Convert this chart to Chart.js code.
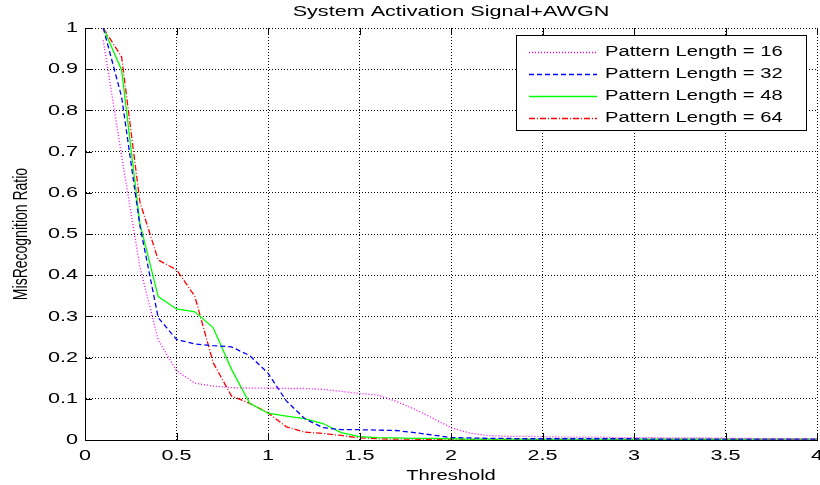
<!DOCTYPE html>
<html>
<head>
<meta charset="utf-8">
<title>System Activation Signal+AWGN</title>
<script src="https://cdn.jsdelivr.net/npm/chart.js@4.4.0/dist/chart.umd.min.js"></script>
<style>
  html, body { margin: 0; padding: 0; background: #fff; }
  #wrap { width: 820px; height: 485px; }
</style>
</head>
<body>
<div id="wrap"><canvas id="chart" width="820" height="485"></canvas></div>
<script>
// thresholds swept along the x axis
const thresholds = [
  0.1, 0.2, 0.3, 0.4, 0.5, 0.6, 0.7, 0.8, 0.9, 1.0,
  1.1, 1.2, 1.3, 1.4, 1.5, 1.6, 1.7, 1.8, 1.9, 2.0,
  2.1, 2.2, 2.3, 2.4, 2.5, 2.6, 2.7, 2.8, 2.9, 3.0,
  3.1, 3.2, 3.3, 3.4, 3.5, 3.6, 3.7, 3.8, 3.9, 4.0
];

// misrecognition ratio per pattern length
const len16 = [
  0.97, 0.69, 0.42, 0.243, 0.168, 0.138, 0.131, 0.127, 0.126, 0.126,
  0.125, 0.125, 0.123, 0.118, 0.113, 0.109, 0.094, 0.075, 0.053, 0.030,
  0.017, 0.011, 0.009, 0.009, 0.008, 0.007, 0.007, 0.007, 0.006, 0.006,
  0.006, 0.005, 0.005, 0.005, 0.004, 0.004, 0.003, 0.003, 0.003, 0.003
];
const len32 = [
  1.0, 0.833, 0.52, 0.297, 0.244, 0.233, 0.229, 0.226, 0.205, 0.162,
  0.095, 0.052, 0.030, 0.025, 0.025, 0.024, 0.023, 0.018, 0.012, 0.006,
  0.005, 0.004, 0.004, 0.003, 0.003, 0.003, 0.003, 0.003, 0.003, 0.003,
  0.002, 0.002, 0.002, 0.002, 0.002, 0.002, 0.002, 0.002, 0.002, 0.002
];
const len48 = [
  1.0, 0.898, 0.526, 0.348, 0.318, 0.311, 0.273, 0.172, 0.089, 0.065,
  0.058, 0.052, 0.040, 0.018, 0.008, 0.006, 0.005, 0.004, 0.004, 0.003,
  0.002, 0.002, 0.002, 0.002, 0.002, 0.002, 0.002, 0.002, 0.002, 0.002,
  0.002, 0.002, 0.002, 0.002, 0.002, 0.002, 0.002, 0.002, 0.002, 0.002
];
const len64 = [
  1.0, 0.93, 0.578, 0.437, 0.413, 0.349, 0.188, 0.107, 0.089, 0.066,
  0.032, 0.019, 0.016, 0.011, 0.005, 0.003, 0.002, 0.002, 0.001, 0.001,
  0.001, 0.001, 0.001, 0.001, 0.001, 0.001, 0.001, 0.001, 0.001, 0.001,
  0.001, 0.001, 0.001, 0.001, 0.001, 0.001, 0.001, 0.001, 0.001, 0.001
];

const seriesLabels = ['Pattern Length = 16', 'Pattern Length = 32', 'Pattern Length = 48', 'Pattern Length = 64'];
const xTicks = [0, 0.5, 1, 1.5, 2, 2.5, 3, 3.5, 4];
const yTicks = [0, 0.1, 0.2, 0.3, 0.4, 0.5, 0.6, 0.7, 0.8, 0.9, 1];

const FONT   = "'Liberation Sans', Arial, Helvetica, sans-serif";
const WIDE   = 1.44;   // glyphs are drawn stretched horizontally
const points = ys => thresholds.map((x, i) => ({ x, y: ys[i] }));
const tickText = v => String(+v.toFixed(1));   // 0, 0.5, 1 ... (no trailing zeros)

const line = (label, ys, color, dash) => ({
  label,
  data: points(ys),
  borderColor: color,
  backgroundColor: color,
  borderWidth: 1.3,
  borderDash: dash,
  pointRadius: 0,
  tension: 0,
  fill: false,
});

/* ── wide text: stretch every glyph along screen x ─────────────── */
const wideText = {
  id: 'wideText',
  beforeDraw(chart) {
    const ctx = chart.ctx;
    const fill = CanvasRenderingContext2D.prototype.fillText;
    ctx.fillText = function (text, x, y) {
      const m = this.getTransform();
      this.save();
      this.translate(x, y);
      if (Math.abs(m.b) > 0.5) this.scale(1, WIDE); else this.scale(WIDE, 1);
      fill.call(this, text, 0, 0);
      this.restore();
    };
  },
  afterDraw(chart) {
    const ctx = chart.ctx;
    const { left, right, top, bottom } = chart.chartArea;
    const xs = chart.scales.x, ys = chart.scales.y;

    // inward tick marks
    ctx.save();
    ctx.strokeStyle = '#000';
    ctx.lineWidth = 1;
    ctx.beginPath();
    xTicks.forEach(v => {
      const px = Math.round(xs.getPixelForValue(v)) + 0.5;
      ctx.moveTo(px, bottom); ctx.lineTo(px, bottom - 7);
      ctx.moveTo(px, top);    ctx.lineTo(px, top + 7);
    });
    yTicks.forEach(v => {
      const py = Math.round(ys.getPixelForValue(v)) + 0.5;
      ctx.moveTo(left, py); ctx.lineTo(left + 7, py);
    });
    ctx.stroke();

    // title over the axes
    ctx.fillStyle = '#000';
    ctx.font = `15px ${FONT}`;
    ctx.textAlign = 'center';
    ctx.textBaseline = 'middle';
    ctx.fillText('System Activation Signal+AWGN', (left + right) / 2, 12);

    // legend box, top right inside the plot
    const bx = 516.5, by = 35.5, bw = 290, bh = 95;
    ctx.fillStyle = '#fff';
    ctx.fillRect(bx, by, bw, bh);
    ctx.strokeStyle = '#000';
    ctx.strokeRect(bx, by, bw, bh);
    ctx.font = `14px ${FONT}`;
    ctx.textAlign = 'left';
    chart.data.datasets.forEach((ds, i) => {
      const y = 52 + i * 22;
      ctx.beginPath();
      ctx.setLineDash(ds.borderDash || []);
      ctx.strokeStyle = ds.borderColor;
      ctx.lineWidth = ds.borderWidth;
      ctx.moveTo(529, y + 0.5);
      ctx.lineTo(597, y + 0.5);
      ctx.stroke();
      ctx.setLineDash([]);
      ctx.fillStyle = '#000';
      ctx.fillText(ds.label, 605, y);
    });
    ctx.restore();

    delete ctx.fillText;
  }
};

new Chart(document.getElementById('chart'), {
  type: 'line',
  data: {
    datasets: [
      line(seriesLabels[0], len16, '#ff00ff', [1, 2]),
      line(seriesLabels[1], len32, '#0000ff', [5, 3]),
      line(seriesLabels[2], len48, '#00ff00', []),
      line(seriesLabels[3], len64, '#ff0000', [6, 2, 1, 2]),
    ],
  },
  options: {
    responsive: false,
    animation: false,
    layout: { padding: { top: 28, right: 3, left: 0, bottom: 0 } },
    plugins: {
      legend: { display: false },
      title: { display: false },
      tooltip: { enabled: false },
    },
    scales: {
      x: {
        type: 'linear',
        min: 0, max: 4,
        afterBuildTicks: s => { s.ticks = xTicks.map(value => ({ value })); },
        afterFit: s => { s.height = 45; s.paddingLeft = 0; s.paddingRight = 0; },
        ticks: { color: '#000', font: { family: FONT, size: 15 }, padding: 7, maxRotation: 0, autoSkip: false, callback: tickText },
        grid: { color: '#000', lineWidth: 1, drawTicks: false },
        border: { color: '#000', width: 1, dash: [1, 2] },
        title: { display: true, text: 'Threshold', color: '#000', font: { family: FONT, size: 14 }, padding: { top: 0, bottom: 0 } },
      },
      y: {
        type: 'linear',
        min: 0, max: 1,
        afterBuildTicks: s => { s.ticks = yTicks.map(value => ({ value })); },
        afterFit: s => { s.width = 85; },
        ticks: { color: '#000', font: { family: FONT, size: 15 }, padding: 7, autoSkip: false, callback: tickText },
        grid: { color: '#000', lineWidth: 1, drawTicks: false },
        border: { color: '#000', width: 1, dash: [1, 2] },
        title: { display: true, text: 'MisRecognition Ratio', color: '#000', font: { family: FONT, size: 14 }, padding: { top: 13, bottom: 0 } },
      },
    },
  },
  plugins: [wideText],
});
</script>
</body>
</html>
